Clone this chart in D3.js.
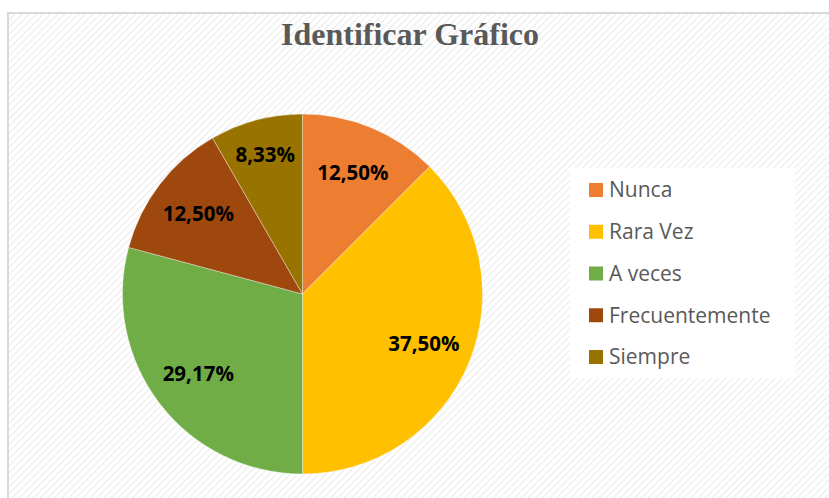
<!DOCTYPE html>
<html>
<head>
<meta charset="utf-8">
<script src="https://cdn.jsdelivr.net/npm/d3@7"></script>
<style>
  body { margin: 0; background: #fff; }
  svg { display: block; }
</style>
</head>
<body>
<div id="chart"></div>
<script>
// data
var categories = ["Nunca", "Rara Vez", "A veces", "Frecuentemente", "Siempre"];
var values = [12.50, 37.50, 29.17, 12.50, 8.33];
var labels = ["12,50%", "37,50%", "29,17%", "12,50%", "8,33%"];
var colors = ["#ED7D31", "#FFC000", "#70AD47", "#9E480E", "#997300"];

var width = 829, height = 498;

var svg = d3.select("#chart").append("svg")
    .attr("width", width)
    .attr("height", height);

// hatched background
var defs = svg.append("defs");
var pat = defs.append("pattern")
    .attr("id", "hatch")
    .attr("patternUnits", "userSpaceOnUse")
    .attr("width", 5)
    .attr("height", 5)
    .attr("patternTransform", "rotate(45)");
pat.append("rect").attr("width", 5).attr("height", 5).attr("fill", "#fff");
pat.append("line")
    .attr("x1", 0).attr("y1", 0).attr("x2", 0).attr("y2", 5)
    .attr("stroke", "#ececec")
    .attr("stroke-width", 2.4);

svg.append("rect")
    .attr("x", 8).attr("y", 13)
    .attr("width", width + 10).attr("height", height + 10)
    .attr("fill", "url(#hatch)")
    .attr("stroke", "#d9d9d9")
    .attr("stroke-width", 2);

// title
svg.append("text")
    .attr("x", 410)
    .attr("y", 45)
    .attr("text-anchor", "middle")
    .style("font-family", "'Liberation Serif', 'Times New Roman', serif")
    .style("font-weight", "bold")
    .style("font-size", "32px")
    .style("fill", "#595959")
    .text("Identificar Gráfico");

// pie
var cx = 302.5, cy = 294, r = 180;
var pie = d3.pie().sort(null).value(function(d) { return d; });
var arc = d3.arc().innerRadius(0).outerRadius(r);
var labelArc = d3.arc().innerRadius(r * 0.73).outerRadius(r * 0.73);

var g = svg.append("g").attr("transform", "translate(" + cx + "," + cy + ")");
var arcs = pie(values);

g.selectAll("path")
    .data(arcs)
  .enter().append("path")
    .attr("d", arc)
    .attr("fill", function(d, i) { return colors[i]; })
    .attr("stroke", "#fff")
    .attr("stroke-width", 0.6)
    .attr("stroke-opacity", 0.6);

g.selectAll("text.lbl")
    .data(arcs)
  .enter().append("text")
    .attr("class", "lbl")
    .attr("transform", function(d, i) {
        var c = labelArc.centroid(d);
        // small slice label sits further out
        if (i === 4) { c = d3.arc().innerRadius(r * 0.8).outerRadius(r * 0.8).centroid(d); }
        return "translate(" + c + ")";
    })
    .attr("dy", "0.35em")
    .attr("text-anchor", "middle")
    .style("font-family", "'Open Sans', 'Noto Sans', sans-serif")
    .style("font-weight", "bold")
    .style("font-size", "20.5px")
    .style("fill", "#000")
    .text(function(d, i) { return labels[i]; });

// legend
var legend = svg.append("g");
legend.append("rect")
    .attr("x", 570).attr("y", 168)
    .attr("width", 225).attr("height", 210)
    .attr("fill", "#fff");

var rowY = d3.scalePoint().domain(categories).range([190, 357]);

var items = legend.selectAll("g.item")
    .data(categories)
  .enter().append("g")
    .attr("class", "item")
    .attr("transform", function(d) { return "translate(589," + rowY(d) + ")"; });

items.append("rect")
    .attr("x", 0).attr("y", -7)
    .attr("width", 14).attr("height", 14)
    .attr("fill", function(d, i) { return colors[i]; });

items.append("text")
    .attr("x", 20)
    .attr("dy", "0.35em")
    .style("font-family", "'Open Sans', 'Noto Sans', sans-serif")
    .style("font-size", "21px")
    .style("fill", "#595959")
    .text(function(d) { return d; });
</script>
</body>
</html>
